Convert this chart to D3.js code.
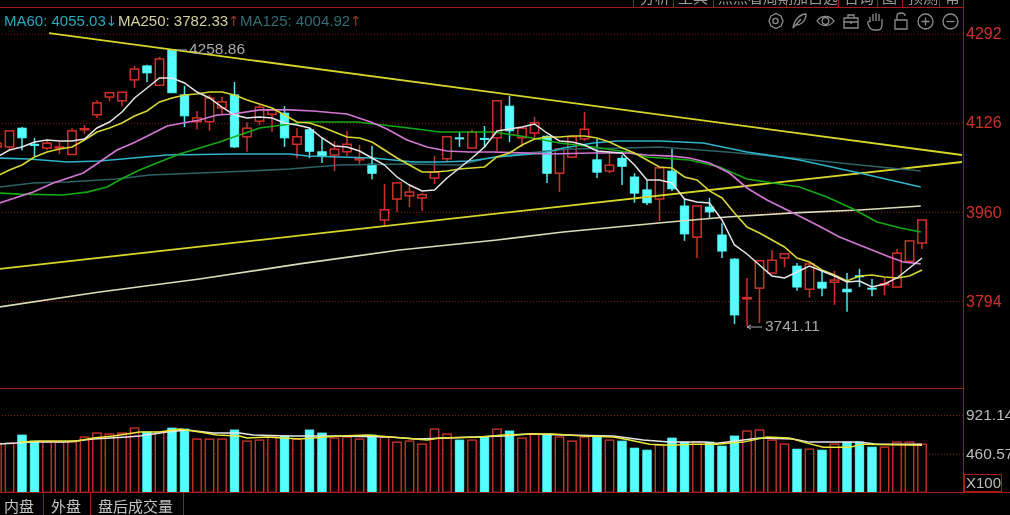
<!DOCTYPE html>
<html><head><meta charset="utf-8">
<style>html,body{margin:0;padding:0;background:#000;overflow:hidden}svg{display:block;filter:blur(.45px)}</style>
<script src="https://cdnjs.cloudflare.com/ajax/libs/d3/7.8.5/d3.min.js"></script>
</head><body><svg id="c" width="1010" height="515"></svg>
<script>
const firstIndex=-1;
const opens=[4081,4081,4116,4086,4079,4079,4067,4113,4141,4174,4167,4206,4232,4196,4262,4178,4128,4128,4154,4178,4100,4129,4142,4144,4086,4113,4072,4066,4072,4057,4049,3945,3984,3990,3986,4023,4059,4098,4079,4097,4098,4157,4098,4107,4101,4032,4062,4096,4057,4036,4060,4025,4001,3984,4036,3971,3913,3969,3917,3872,3798,3818,3846,3874,3859,3816,3829,3829,3816,3841,3818,3824,3820,3868,3902];
const closes=[4088,4111,4098,4084,4088,4081,4111,4115,4163,4182,4183,4226,4219,4245,4182,4139,4135,4172,4165,4081,4116,4155,4150,4098,4100,4073,4064,4077,4086,4060,4032,3964,4014,3997,3992,4034,4100,4096,4109,4095,4167,4111,4116,4126,4032,4077,4100,4114,4034,4047,4045,3995,3977,4042,4003,3919,3971,3960,3887,3768,3800,3869,3870,3882,3820,3863,3818,3833,3811,3839,3816,3826,3883,3906,3945];
const highs=[4092,4111,4118,4098,4096,4090,4116,4122,4168,4182,4183,4232,4234,4249,4263,4195,4148,4178,4174,4202,4127,4159,4150,4157,4116,4116,4098,4092,4111,4085,4083,4012,4014,4012,3995,4064,4101,4109,4113,4120,4167,4176,4118,4137,4103,4077,4101,4146,4096,4072,4066,4032,4019,4043,4077,3986,3971,3986,3939,3874,3837,3869,3889,3882,3865,3865,3850,3850,3846,3854,3835,3837,3891,3906,3945];
const lows=[4075,4075,4075,4064,4075,4068,4066,4105,4135,4167,4157,4191,4202,4196,4182,4118,4114,4111,4141,4079,4072,4122,4109,4081,4060,4060,4051,4036,4064,4047,4021,3934,3960,3969,3962,4012,4055,4081,4079,4079,4073,4090,4081,4098,4014,3997,4060,4092,4023,4032,4010,3977,3973,3943,3999,3906,3874,3949,3874,3751,3747,3753,3844,3857,3813,3800,3803,3787,3774,3820,3803,3805,3820,3868,3891];
const volumes=[586,586,682,610,598,598,598,658,706,694,706,765,718,718,765,753,634,634,634,742,610,622,658,670,634,742,706,646,658,634,682,658,598,610,574,753,694,622,622,658,753,730,646,694,694,658,610,658,658,622,610,526,502,562,646,598,598,598,550,670,730,742,622,574,514,514,502,574,598,598,538,538,598,598,574];
const ma5=[4062.3,4075.3,4080.9,4090.2,4094,4092.1,4092.1,4095.8,4116.3,4127.5,4146.1,4172.2,4190.8,4209.5,4209.5,4200.2,4183.4,4172.2,4155.4,4140.5,4135,4136.8,4135,4125.6,4121.9,4116.3,4097.7,4082.8,4080.9,4073.5,4060.4,4047.4,4025,4010.1,3999,4000.8,4023.2,4041.8,4060.4,4080.9,4110.7,4114.5,4118.2,4123.8,4107,4092.1,4090.2,4084.6,4073.5,4071.6,4069.7,4047.4,4019.4,4019.4,4013.8,3984,3978.4,3976.6,3945,3898.4,3881.6,3861,3840.6,3836.9,3848,3859.2,3849.9,3840.6,3829.4,3831.3,3820,3825.7,3836.9,3855.5,3874.1];
const ma10=[4026.9,4038.1,4047.4,4062.3,4071.6,4077.2,4080.9,4094,4108.9,4116.3,4125.6,4138.7,4148,4164.8,4172.2,4177.8,4179.7,4183.4,4183.4,4177.8,4168.5,4161,4153.6,4140.5,4127.5,4125.6,4118.2,4108.9,4099.6,4097.7,4090.2,4075.3,4060.4,4047.4,4034.4,4034.4,4036.2,4039.9,4041.8,4043.7,4062.3,4069.7,4084.6,4095.8,4099.6,4099.6,4101.4,4101.4,4097.7,4090.2,4079,4069.7,4056.7,4043.7,4041.8,4025,4019.4,3999,3985.9,3958,3931.9,3920.7,3907.7,3894.6,3874.1,3866.7,3851.8,3842.5,3831.3,3840.6,3842.5,3838.7,3836.9,3840.6,3851.8];
const ma20Idx=[-0.8,1.9,3.5,5.9,7.2,8.6,9.9,11.2,12.6,13.9,15.2,16.6,17.9,20,22.4,24.3,27,28.9,30.2,31.8,33.4,35,36.8,38.7,41.4,43,46.7,49.4,51,53,54.4,56,57.6,59,60.6,62.7,64.6,66.4,68.6,70.2,71.5,72.9];
const ma20=[3976.6,3997,4013.8,4032.5,4053,4075.3,4088.4,4103.3,4120,4125.6,4131.2,4140.5,4142.4,4149.9,4149.9,4148,4142.4,4127.5,4114.5,4094,4080.9,4073.5,4071.6,4071.6,4069.7,4067.9,4069.7,4069.7,4066,4064,4060.4,4051.1,4032.5,4004.5,3982.2,3958,3935.6,3913.3,3892.8,3877.8,3866.7,3863];
const ma40Idx=[-0.8,0.8,4.3,6.2,7.8,9.1,10.4,12,13.6,15.2,16.8,18.4,20,21.9,23.8,25.4,27.8,29.9,32.6,34.4,38.7,41.4,44,46.7,49.4,51,54.4,56.8,59,61.1,63.2,65.4,67.5,69.4,71.3,72.9];
const ma40=[3995.2,3993.3,3991.5,3997,4006.4,4023.2,4038.1,4053,4067.9,4079,4090.2,4103.3,4116.3,4121.9,4127.5,4127.5,4127.5,4121.9,4114.5,4108.9,4108.9,4099.6,4088.4,4080.9,4071.6,4062.3,4056.7,4043.7,4021.3,4013.8,4006.4,3987.8,3965.4,3941.2,3930,3922.6];
const ma60Idx=[-0.8,1.6,4.6,7.2,12.6,17.9,22.4,23.8,29.1,32.3,34.4,36.8,39,42.7,44.3,46.7,48.6,52,55.5,59,63.2,68,72.9];
const ma60=[4060.4,4058.6,4053,4054.8,4066,4067.9,4067.9,4064.1,4060.4,4053,4053,4054.8,4062.3,4069.7,4079,4088.4,4092.1,4092.1,4088.4,4071.6,4056.7,4032.5,4006.4];
const ma125Idx=[-0.8,1.9,4.6,8.6,11.2,15.2,19.2,22.4,26.4,31.8,36,38.7,41.4,44.8,49.4,52,57.4,62.7,68,72.9];
const ma125=[4006.4,4013.8,4015.7,4021.3,4028.8,4032.5,4036.2,4039.9,4047.4,4049.2,4047.4,4062.3,4069.7,4077.2,4079,4080.9,4071.6,4060.4,4047.4,4036.2];
const ma250Idx=[-0.8,7.2,15.2,23.2,31.2,39,44.3,52.8,57.4,62.7,68,72.9];
const ma250=[3782.8,3810.8,3835,3863,3889,3907.7,3922.6,3941.2,3950.5,3958,3963.5,3971];
const volMa5Idx=[-0.8,1.9,4.6,6.7,9.4,10.4,12.6,14.2,16.3,18.4,19.5,22.4,26,30.4,32.6,35,39.5,41.6,44.3,48.3,50.7,52.8,55.5,56.6,60,62.7,64,68,69.4,73];
const volMa5=[574,598,598,634,658,670,718,742,706,706,682,670,670,658,634,646,670,694,682,670,622,598,598,586,646,634,598,598,574,574];
const volMa10Idx=[0.8,2.4,5.4,6.7,8.3,10.4,12,13.6,15.2,16.6,18.4,19,20.6,23.2,26.4,28.6,31.5,33.4,34.4,37.6,39.5,41.6,43.5,45.9,48.3,49.6,51.2,52.8,54.7,56.6,58.7,60.6,62.4,63.5,65.1,67.2,68.3,73];
const volMa10=[598,610,610,646,670,718,718,753,718,682,670,646,658,634,670,682,646,622,646,658,682,694,694,670,658,622,574,562,574,574,598,658,646,598,538,538,574,562];
const upperTrendIdx=[3.16,76.2], upperTrend=[4293,4066];
const lowerTrendIdx=[-0.76,76.2], lowerTrend=[3854,4053];
const priceTicks=[4292,4126,3960,3794];
const volumeTicks=[921.14,460.57];
const highLabel="4258.86", lowLabel="3741.11";
const legendItems=[["MA60: 4055.03","↓","#27a9bd","#27a9bd",4],["MA250: 3782.33","↑","#d2d2a0","#b02a22",118],["MA125: 4004.92","↑","#2f6f74","#b02a22",240]];
const tabLabels=["内盘","外盘","盘后成交量"];
const menuLabels=["分析","工具","点点看周期","加自选","咨询","图","预测","帮"];

const RED="#d0302a",CYAN="#55ffff",GRID="#8a1c18",FRAME="#a51c16";
const svg=d3.select("#c");
svg.append("rect").attr("width",1010).attr("height",515).attr("fill","#000");
const x=d3.scaleLinear().domain([0,73]).range([9.5,922]);
const y=d3.scaleLinear().domain([3794,4292]).range([301,33.7]);
const yVol=d3.scaleLinear().domain([0,921.14]).range([492.3,415]);
const bw=8.4;

function axis(scale,ticks,fmt,color,size){
  const g=svg.append("g").attr("transform","translate(963,0)").call(d3.axisRight(scale).tickValues(ticks).tickFormat(fmt).tickSizeInner(-963).tickSizeOuter(0).tickPadding(3));
  g.select(".domain").remove();
  g.selectAll("line").attr("stroke",GRID).attr("stroke-dasharray","1 2");
  g.selectAll("text").attr("fill",color).attr("font-family","Liberation Sans").attr("font-size",size);
}
axis(y,priceTicks,d=>d,"#d0302a",16);
axis(yVol,volumeTicks,d=>d.toFixed(2),"#bcbcbc",15.5);

const frame=[[0,7.5,963,7.5],[0,388.5,963,388.5],[0,492.5,1010,492.5],[963.5,0,963.5,492],[43.5,493,43.5,515],[90.5,493,90.5,515],[183.5,493,183.5,515]];
svg.selectAll(".f").data(frame).join("line").attr("x1",d=>d[0]).attr("y1",d=>d[1]).attr("x2",d=>d[2]).attr("y2",d=>d[3]).attr("stroke",FRAME);
svg.append("rect").attr("x",964.5).attr("y",474.5).attr("width",37).attr("height",17).attr("fill","none").attr("stroke",FRAME);
svg.append("text").text("X100").attr("x",966).attr("y",488).attr("fill","#bcbcbc").attr("font-family","Liberation Sans").attr("font-size",15);

[633.5,673.5,713.5,786.5,838.5,877.5,902.5,939.5].forEach(v=>svg.append("line").attr("x1",v).attr("x2",v).attr("y1",0).attr("y2",7).attr("stroke",FRAME));
[640,678,718,793,844,882,908,945].forEach((px,i)=>svg.append("text").text(menuLabels[i]).attr("x",px).attr("y",3).attr("fill","#9a9a9a").attr("font-family","Noto Sans CJK SC").attr("font-size",15));

const idx=d3.range(opens.length).map(i=>i+firstIndex);
const rows=idx.map((k,i)=>({k,o:opens[i],c:closes[i],h:highs[i],l:lows[i],v:volumes[i]}));
const up=d=>d.c>=d.o;
const cg=svg.append("g");
cg.selectAll("line").data(rows).join("line")
  .attr("x1",d=>x(d.k)).attr("x2",d=>x(d.k)).attr("y1",d=>y(d.h)).attr("y2",d=>y(d.l))
  .attr("stroke",d=>up(d)?RED:"#4fe8ee").attr("stroke-width",1.5);
cg.selectAll("rect").data(rows).join("rect")
  .attr("x",d=>x(d.k)-bw/2).attr("width",bw)
  .attr("y",d=>y(Math.max(d.o,d.c))).attr("height",d=>Math.max(1,Math.abs(y(d.o)-y(d.c))))
  .attr("fill",d=>up(d)?"#000":CYAN).attr("stroke",d=>up(d)?RED:CYAN).attr("stroke-width",d=>up(d)?1.5:.9);

const L=d3.line().x(d=>x(d[0])).y(d=>y(d[1]));
const LV=d3.line().x(d=>x(d[0])).y(d=>yVol(d[1]));
const zip=(a,b)=>a.map((v,i)=>[v,b[i]]);
function draw(gen,data,color,w){svg.append("path").attr("d",gen(data)).attr("fill","none").attr("stroke",color).attr("stroke-width",w||1.2);}
draw(L,zip(upperTrendIdx,upperTrend),"#d6d62a",1.8);
draw(L,zip(lowerTrendIdx,lowerTrend),"#d6d62a",1.8);
draw(L,zip(ma250Idx,ma250),"#dcdcb8",1.7);
draw(L,zip(ma125Idx,ma125),"#2c6166",1.5);
draw(L,zip(ma60Idx,ma60),"#2fb4c9",1.7);
draw(L,zip(ma40Idx,ma40),"#15a815",1.7);
draw(L,zip(ma20Idx,ma20),"#d276d2",1.7);
draw(L,zip(idx,ma10),"#d6d635",1.6);
draw(L,zip(idx,ma5),"#e6e6e6",1.5);

const vg=svg.append("g");
vg.selectAll("rect").data(rows).join("rect")
  .attr("x",d=>x(d.k)-bw/2).attr("width",bw)
  .attr("y",d=>yVol(d.v)).attr("height",d=>yVol(0)-yVol(d.v))
  .attr("fill",d=>up(d)?"#000":CYAN).attr("stroke",d=>up(d)?"#c8302a":CYAN).attr("stroke-width",d=>up(d)?1.4:.9);
draw(LV,zip(volMa5Idx,volMa5),"#e6e6e6",1.5);
draw(LV,zip(volMa10Idx,volMa10),"#e8e83a",1.5);
svg.append("line").attr("x1",0).attr("x2",1010).attr("y1",492.5).attr("y2",492.5).attr("stroke",FRAME);

legendItems.forEach(d=>{
  const t=svg.append("text").attr("x",d[4]).attr("y",26).attr("font-family","Liberation Sans").attr("font-size",15).attr("fill",d[2]).text(d[0]);
  t.append("tspan").attr("fill",d[3]).attr("font-family","DejaVu Sans").attr("font-size",14).text(d[1]);
});

const gray="#a9a9a9";
svg.append("line").attr("x1",177).attr("x2",187).attr("y1",50).attr("y2",50).attr("stroke",gray);
svg.append("text").text(highLabel).attr("x",189).attr("y",54).attr("fill",gray).attr("font-family","Liberation Sans").attr("font-size",15.5);
svg.append("path").attr("d","M747 327H762M747 327l4 -2M747 327l4 2").attr("stroke",gray).attr("fill","none");
svg.append("text").text(lowLabel).attr("x",765).attr("y",331).attr("fill",gray).attr("font-family","Liberation Sans").attr("font-size",15.5);

[[4,0],[51,1],[98,2]].forEach(([px,i])=>svg.append("text").text(tabLabels[i]).attr("x",px).attr("y",512).attr("fill","#c4c4c4").attr("font-family","Noto Sans CJK SC").attr("font-size",15));

const ic=svg.append("g").attr("fill","none").attr("stroke","#8c8c8c").attr("stroke-width",1.3);
ic.append("path").attr("d","M771 16l5 -2.5 5 2.5 2 5 -2 5 -5 2.5 -5 -2.5 -2 -5z");
ic.append("circle").attr("cx",775.5).attr("cy",21).attr("r",2.6);
ic.append("path").attr("d","M793 28C794 20 800 14 806 14C806 21 801 25 796 25M793 28l8 -9");
ic.append("path").attr("d","M817 21C821 15 830 15 834 21C830 27 821 27 817 21z");
ic.append("circle").attr("cx",825.5).attr("cy",21).attr("r",3.3);
ic.append("path").attr("d","M844 18h14v10h-14zM844 22h14M848 18v-3h6v3M851 21v3");
ic.append("path").attr("d","M870 22v-5M873 21v-7M876 21v-8M879 21v-7M882 22v-3M870 22c-1 -1 -3 -1 -2 2c1 3 3 6 6 6h4c3 0 4 -3 4 -6v-5");
ic.append("path").attr("d","M895 20h12v9h-12zM897 20v-4c0 -4 8 -4 8 0");
[[926,1],[951,0]].forEach(([cx,p])=>{
  ic.append("circle").attr("cx",cx-.5).attr("cy",21.5).attr("r",7.5);
  ic.append("path").attr("d",`M${cx-4.5} 21.5h8`+(p?`M${cx-.5} 17.5v8`:""));
});
</script></body></html>
